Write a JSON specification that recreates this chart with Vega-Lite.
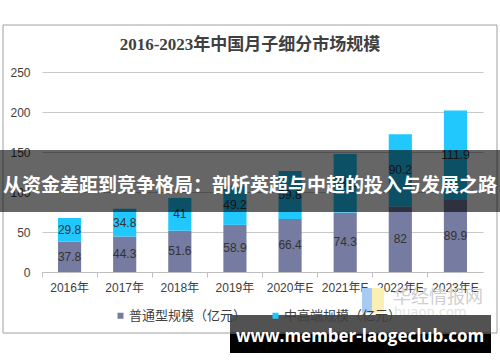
{
  "$schema": "https://vega.github.io/schema/vega-lite/v6.json",
  "width": 441,
  "height": 200,
  "autosize": {"type": "none"},
  "padding": {"left": 42, "top": 72, "right": 17, "bottom": 90},
  "background": "white",
  "title": {
    "text": "2016-2023年中国月子细分市场规模",
    "font": "Liberation Serif, Noto Sans CJK SC",
    "fontSize": 17,
    "fontWeight": "bold",
    "color": "#404040",
    "anchor": "middle",
    "frame": "bounds",
    "offset": -29,
    "dx": 0
  },
  "config": {
    "view": {"stroke": null},
    "font": "Liberation Sans",
    "axisY": {
      "grid": true, "gridColor": "#c8c8c8", "domain": false, "ticks": false,
      "labelPadding": 12, "labelFontSize": 12, "labelColor": "#404040", "tickCount": 5
    },
    "axisX": {
      "labelAngle": 0, "labelFontSize": 12, "labelColor": "#404040",
      "labelFont": "Liberation Sans, Noto Sans CJK SC",
      "domainColor": "#bfbfbf", "tickColor": "#bfbfbf", "tickSize": 5,
      "bandPosition": -0.69, "labelPadding": 5, "grid": false
    }
  },
  "datasets": {
    "bars": [
      {"year": "2016年", "type": "普通型规模（亿元）", "value": 37.8},
      {"year": "2017年", "type": "普通型规模（亿元）", "value": 44.3},
      {"year": "2018年", "type": "普通型规模（亿元）", "value": 51.6},
      {"year": "2019年", "type": "普通型规模（亿元）", "value": 58.9},
      {"year": "2020年E", "type": "普通型规模（亿元）", "value": 66.4},
      {"year": "2021年E", "type": "普通型规模（亿元）", "value": 74.3},
      {"year": "2022年E", "type": "普通型规模（亿元）", "value": 82},
      {"year": "2023年E", "type": "普通型规模（亿元）", "value": 89.9},
      {"year": "2016年", "type": "中高端规模（亿元）", "value": 29.8},
      {"year": "2017年", "type": "中高端规模（亿元）", "value": 34.8},
      {"year": "2018年", "type": "中高端规模（亿元）", "value": 41},
      {"year": "2019年", "type": "中高端规模（亿元）", "value": 49.2},
      {"year": "2020年E", "type": "中高端规模（亿元）", "value": 59.8},
      {"year": "2021年E", "type": "中高端规模（亿元）", "value": 73.2},
      {"year": "2022年E", "type": "中高端规模（亿元）", "value": 90.2},
      {"year": "2023年E", "type": "中高端规模（亿元）", "value": 111.9}
    ],
    "banner": [{"label": "从资金差距到竞争格局：剖析英超与中超的投入与发展之路"}],
    "site": [{"label": "www.member-laogeclub.com"}],
    "faded": [{"label": "华经情报网"}],
    "faded2": [{"label": "huaon.com"}],
    "blank": [{}]
  },
  "layer": [
    {
      "data": {"name": "blank"},
      "mark": {"type": "rect", "fill": "transparent", "stroke": "#a0a0a0", "strokeWidth": 1},
      "encoding": {
        "x": {"value": -39},
        "x2": {"value": 455},
        "y": {"value": -47},
        "y2": {"value": 261}
      }
    },
    {
      "data": {"name": "blank"},
      "mark": {"type": "rect", "fill": "#a8cbf4"},
      "encoding": {
        "x": {"value": 320},
        "x2": {"value": 330},
        "y": {"datum": -20, "type": "quantitative", "title": null},
        "y2": {"datum": -51}
      }
    },
    {
      "data": {"name": "blank"},
      "mark": {"type": "rect", "fill": "#fbefb4"},
      "encoding": {
        "x": {"value": 330},
        "x2": {"value": 342},
        "y": {"datum": -20, "type": "quantitative", "title": null},
        "y2": {"datum": -51}
      }
    },
    {
      "data": {"name": "faded"},
      "mark": {"type": "text", "font": "Noto Sans CJK SC", "fontSize": 18, "color": "#cfcfcf", "align": "left", "baseline": "middle"},
      "encoding": {
        "x": {"value": 351},
        "y": {"datum": -32, "type": "quantitative", "title": null},
        "text": {"field": "label"}
      }
    },
    {
      "data": {"name": "faded2"},
      "mark": {"type": "text", "font": "DejaVu Sans", "fontSize": 13, "color": "#e2e2e2", "align": "left", "baseline": "middle"},
      "encoding": {
        "x": {"value": 352},
        "y": {"datum": -50, "type": "quantitative", "title": null},
        "text": {"field": "label"}
      }
    },
    {
      "data": {"name": "bars"},
      "mark": {"type": "bar"},
      "encoding": {
        "x": {
          "field": "year", "type": "nominal", "sort": null, "title": null,
          "scale": {"paddingInner": 0.58, "paddingOuter": 0.29}
        },
        "y": {
          "field": "value", "type": "quantitative", "stack": "zero", "title": null,
          "scale": {"domain": [0, 250], "nice": false}
        },
        "color": {
          "field": "type", "type": "nominal",
          "scale": {"domain": ["普通型规模（亿元）", "中高端规模（亿元）"], "range": ["#767BA1", "#20C8FE"]},
          "legend": {
            "title": null, "orient": "none", "direction": "horizontal",
            "legendX": 72, "legendY": 237,
            "symbolType": "square", "symbolSize": 36, "symbolStrokeWidth": 0,
            "labelFontSize": 13, "labelColor": "#404040", "labelFont": "Noto Sans CJK SC",
            "labelOffset": 2, "columnPadding": 22, "padding": 0
          }
        },
        "order": {"field": "type", "sort": "descending"}
      }
    },
    {
      "data": {"name": "bars"},
      "mark": {"type": "text", "fontSize": 12, "color": "#333333", "baseline": "middle"},
      "encoding": {
        "x": {"field": "year", "type": "nominal", "sort": null, "title": null},
        "y": {"field": "value", "type": "quantitative", "stack": "zero", "bandPosition": 0.5, "title": null},
        "text": {"field": "value", "type": "quantitative"},
        "order": {"field": "type", "sort": "descending"}
      }
    },
    {
      "data": {"name": "blank"},
      "mark": {"type": "rect", "fill": "black", "opacity": 0.6},
      "encoding": {
        "x": {"value": -42},
        "x2": {"value": 458},
        "y": {"datum": 152.5, "type": "quantitative", "title": null},
        "y2": {"datum": 75}
      }
    },
    {
      "data": {"name": "banner"},
      "mark": {"type": "text", "font": "Noto Sans CJK SC", "fontWeight": "bold", "fontSize": 19, "color": "white", "align": "center", "baseline": "middle"},
      "encoding": {
        "x": {"value": 208},
        "y": {"datum": 107.5, "type": "quantitative", "title": null},
        "text": {"field": "label"}
      }
    },
    {
      "data": {"name": "blank"},
      "mark": {"type": "rect", "fill": "black", "opacity": 0.68},
      "encoding": {
        "x": {"value": 188},
        "x2": {"value": 449},
        "y": {"datum": -53.75, "type": "quantitative", "title": null},
        "y2": {"datum": -101.25}
      }
    },
    {
      "data": {"name": "blank"},
      "mark": {"type": "rect", "fill": "black"},
      "encoding": {
        "x": {"value": 188},
        "x2": {"value": 449},
        "y": {"datum": -77.5, "type": "quantitative", "title": null},
        "y2": {"datum": -101.25}
      }
    },
    {
      "data": {"name": "site"},
      "mark": {"type": "text", "font": "Open Sans", "fontWeight": "bold", "fontSize": 17, "color": "white", "align": "center", "baseline": "middle"},
      "encoding": {
        "x": {"value": 318},
        "y": {"datum": -81.5, "type": "quantitative", "title": null},
        "text": {"field": "label"}
      }
    }
  ]
}
